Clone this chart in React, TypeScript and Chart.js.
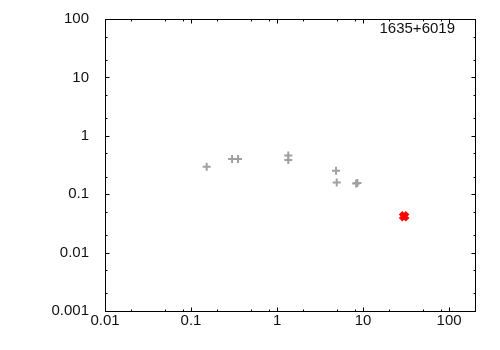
import React, { useEffect, useRef } from "react";
import { Chart, registerables } from "chart.js";

Chart.register(...registerables);

// Axis ticks
const xTickValues = [0.01, 0.1, 1, 10, 100];
const xTickLabels = ["0.01", "0.1", "1", "10", "100"];
const yTickValues = [0.001, 0.01, 0.1, 1, 10, 100];
const yTickLabels = ["0.001", "0.01", "0.1", "1", "10", "100"];
const xMin = 0.01;
const xMax = 200;
const yMin = 0.001;
const yMax = 100;
const xMinorFactors = [2, 5, 8];
const yMinorFactors = [2, 5];

// Data series
const grayX = [0.152, 0.3, 0.352, 1.35, 1.35, 4.85, 4.94, 8.3, 8.6];
const grayY = [0.296, 0.4, 0.4, 0.46, 0.385, 0.252, 0.159, 0.152, 0.155];
const redX = [30];
const redY = [0.042];
const sourceName = "1635+6019";

const FONT = "'Liberation Sans', Arial, sans-serif";

const framePlugin = {
  id: "frame",
  afterDatasetsDraw(chart: any) {
    const { ctx, chartArea, scales } = chart;
    const { left, right, top, bottom } = chartArea;
    const xs = scales.x;
    const ys = scales.y;
    ctx.save();
    ctx.strokeStyle = "#000";
    ctx.lineWidth = 1;
    ctx.strokeRect(left + 0.5, top + 0.5, right - left, bottom - top);

    const major = 4;
    const minor = 2;
    ctx.beginPath();
    for (let e = -2; e <= 3; e++) {
      const base = Math.pow(10, e);
      const vals: [number, number][] = [[base, major]];
      xMinorFactors.forEach((f) => vals.push([base * f, minor]));
      vals.forEach(([v, len]) => {
        if (v <= xMin || v >= xMax) return;
        const px = Math.round(xs.getPixelForValue(v)) + 0.5;
        ctx.moveTo(px, bottom + 0.5);
        ctx.lineTo(px, bottom + 0.5 - len);
        ctx.moveTo(px, top + 0.5);
        ctx.lineTo(px, top + 0.5 + len);
      });
    }
    for (let e = -3; e <= 2; e++) {
      const base = Math.pow(10, e);
      const vals: [number, number][] = [[base, major]];
      yMinorFactors.forEach((f) => vals.push([base * f, minor]));
      vals.forEach(([v, len]) => {
        if (v <= yMin || v >= yMax) return;
        const py = Math.round(ys.getPixelForValue(v)) + 0.5;
        ctx.moveTo(left + 0.5, py);
        ctx.lineTo(left + 0.5 + len, py);
        ctx.moveTo(right + 0.5, py);
        ctx.lineTo(right + 0.5 - len, py);
      });
    }
    ctx.stroke();

    ctx.fillStyle = "#111";
    ctx.font = `15px ${FONT}`;
    ctx.textAlign = "right";
    ctx.textBaseline = "middle";
    ctx.fillText(sourceName, right - 20, top + 10);
    ctx.restore();
  },
};

export default function App() {
  const ref = useRef<HTMLCanvasElement | null>(null);

  useEffect(() => {
    if (!ref.current) return;
    const chart = new Chart(ref.current, {
      type: "scatter",
      data: {
        datasets: [
          {
            label: "gray",
            data: grayX.map((x, i) => ({ x, y: grayY[i] })),
            pointStyle: "cross",
            pointRadius: 4,
            pointBorderWidth: 2,
            borderColor: "#a0a0a0",
            backgroundColor: "#a0a0a0",
          },
          {
            label: "red",
            data: redX.map((x, i) => ({ x, y: redY[i] })),
            pointStyle: "crossRot",
            pointRadius: 5,
            pointBorderWidth: 5,
            borderColor: "#ff0000",
            backgroundColor: "#ff0000",
          },
        ],
      },
      options: {
        animation: false,
        responsive: false,
        events: [],
        layout: { padding: { top: 19, right: 25, left: 0, bottom: 0 } },
        plugins: {
          legend: { display: false },
          tooltip: { enabled: false },
        },
        scales: {
          x: {
            type: "logarithmic",
            min: xMin,
            max: xMax,
            grid: { display: false, drawTicks: false },
            border: { display: false },
            afterBuildTicks: (s: any) => {
              s.ticks = xTickValues.map((v) => ({ value: v }));
            },
            afterFit: (s: any) => {
              s.height = 39;
              s.paddingLeft = 0;
              s.paddingRight = 0;
            },
            ticks: {
              autoSkip: false,
              maxRotation: 0,
              padding: 1,
              color: "#111",
              font: { family: FONT, size: 15 },
              callback: (_v: any, i: number) => xTickLabels[i],
            },
          },
          y: {
            type: "logarithmic",
            min: yMin,
            max: yMax,
            grid: { display: false, drawTicks: false },
            border: { display: false },
            afterBuildTicks: (s: any) => {
              s.ticks = yTickValues.map((v) => ({ value: v }));
            },
            afterFit: (s: any) => {
              s.width = 105;
              s.paddingTop = 0;
              s.paddingBottom = 0;
            },
            ticks: {
              autoSkip: false,
              padding: 16,
              color: "#111",
              font: { family: FONT, size: 15 },
              callback: (_v: any, i: number) => yTickLabels[i],
            },
          },
        },
      },
      plugins: [framePlugin],
    } as any);
    return () => chart.destroy();
  }, []);

  return (
    <canvas
      ref={ref}
      width={500}
      height={350}
      style={{ position: "absolute", left: 0, top: 0, display: "block", background: "#fff" }}
    />
  );
}
